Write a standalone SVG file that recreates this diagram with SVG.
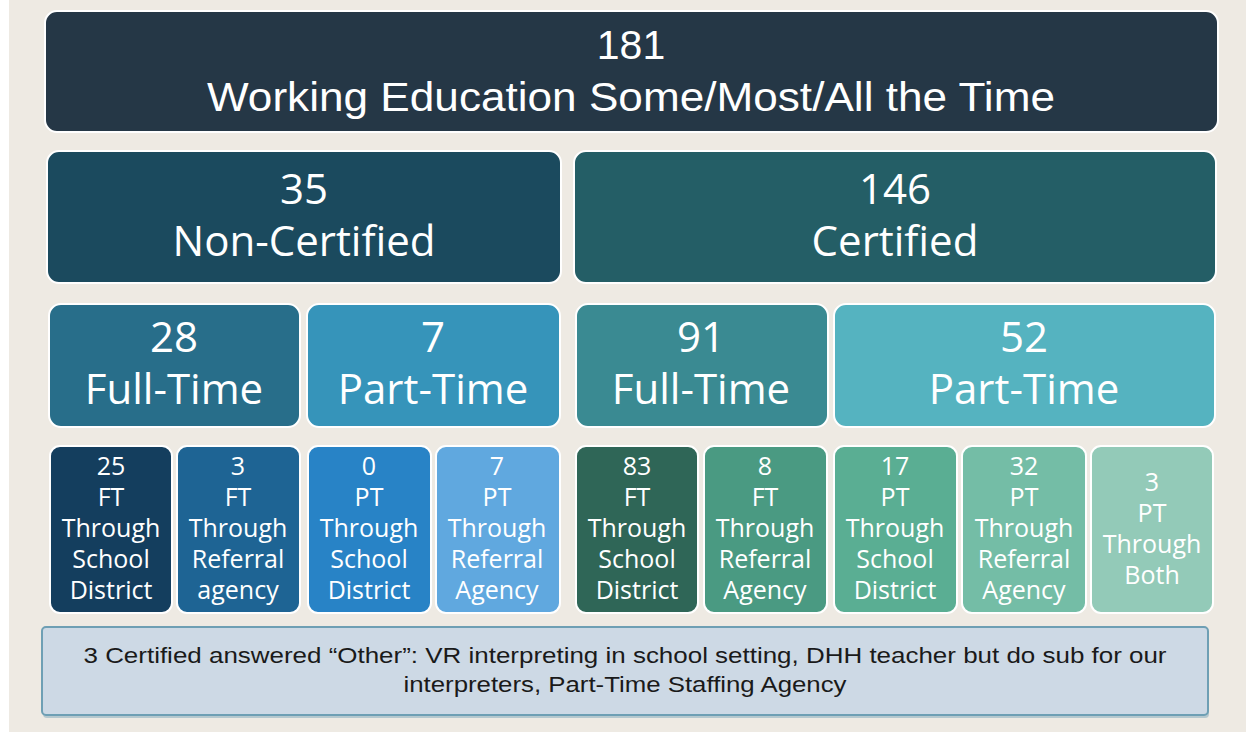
<svg xmlns="http://www.w3.org/2000/svg" width="1246" height="732" viewBox="0 0 1246 732">
<defs>
<style>
.b{stroke:#ffffff;stroke-width:2}
.t{font-family:"Open Sans","DejaVu Sans",sans-serif;fill:#ffffff;text-anchor:middle}
.big{font-size:42px}
.sm{font-size:25px}
.top{font-family:"Liberation Sans",Arial,sans-serif;fill:#ffffff;text-anchor:middle;font-size:41px}
.ft{font-family:"Liberation Sans",Arial,sans-serif;fill:#1a1a1a;text-anchor:middle;font-size:22px}
</style>
</defs>
<rect x="0" y="0" width="1246" height="732" fill="#EEEAE3"/>
<rect x="0" y="0" width="9" height="732" fill="#ffffff"/>

<g id="n-total">
<rect class="b" x="45" y="11" width="1173" height="121" rx="12" fill="#253746"/>
<text class="top" x="631" y="59">181</text>
<text class="top" x="631" y="111" textLength="848" lengthAdjust="spacingAndGlyphs">Working Education Some/Most/All the Time</text>
</g>

<g id="n-noncert">
<rect class="b" x="47" y="151" width="514" height="132" rx="12" fill="#1B4A5E"/>
<text class="t big" x="304" y="204">35</text>
<text class="t big" x="304" y="256">Non-Certified</text>
</g>
<g id="n-cert">
<rect class="b" x="574" y="151" width="642" height="132" rx="12" fill="#245E66"/>
<text class="t big" x="895" y="204">146</text>
<text class="t big" x="895" y="256">Certified</text>
</g>

<g id="n-nc-ft">
<rect class="b" x="49" y="304" width="251" height="123" rx="12" fill="#286E8A"/>
<text class="t big" x="174" y="352">28</text>
<text class="t big" x="174" y="404">Full-Time</text>
</g>
<g id="n-nc-pt">
<rect class="b" x="307" y="304" width="253" height="123" rx="12" fill="#3694BA"/>
<text class="t big" x="433" y="352">7</text>
<text class="t big" x="433" y="404">Part-Time</text>
</g>
<g id="n-c-ft">
<rect class="b" x="576" y="304" width="252" height="123" rx="12" fill="#3A8A92"/>
<text class="t big" x="701" y="352">91</text>
<text class="t big" x="701" y="404">Full-Time</text>
</g>
<g id="n-c-pt">
<rect class="b" x="834" y="304" width="381" height="123" rx="12" fill="#55B3C0"/>
<text class="t big" x="1024" y="352">52</text>
<text class="t big" x="1024" y="404">Part-Time</text>
</g>

<g id="n-25">
<rect class="b" x="50" y="446" width="122" height="167" rx="10" fill="#143E5E"/>
<text class="t sm" x="111" y="475">25</text>
<text class="t sm" x="111" y="506">FT</text>
<text class="t sm" x="111" y="537">Through</text>
<text class="t sm" x="111" y="568">School</text>
<text class="t sm" x="111" y="599">District</text>
</g>
<g id="n-3ft">
<rect class="b" x="177" y="446" width="123" height="167" rx="10" fill="#1E6494"/>
<text class="t sm" x="238" y="475">3</text>
<text class="t sm" x="238" y="506">FT</text>
<text class="t sm" x="238" y="537">Through</text>
<text class="t sm" x="238" y="568">Referral</text>
<text class="t sm" x="238" y="599">agency</text>
</g>
<g id="n-0">
<rect class="b" x="308" y="446" width="123" height="167" rx="10" fill="#2883C6"/>
<text class="t sm" x="369" y="475">0</text>
<text class="t sm" x="369" y="506">PT</text>
<text class="t sm" x="369" y="537">Through</text>
<text class="t sm" x="369" y="568">School</text>
<text class="t sm" x="369" y="599">District</text>
</g>
<g id="n-7pt">
<rect class="b" x="436" y="446" width="124" height="167" rx="10" fill="#60A8DF"/>
<text class="t sm" x="497" y="475">7</text>
<text class="t sm" x="497" y="506">PT</text>
<text class="t sm" x="497" y="537">Through</text>
<text class="t sm" x="497" y="568">Referral</text>
<text class="t sm" x="497" y="599">Agency</text>
</g>
<g id="n-83">
<rect class="b" x="576" y="446" width="122" height="167" rx="10" fill="#2F6657"/>
<text class="t sm" x="637" y="475">83</text>
<text class="t sm" x="637" y="506">FT</text>
<text class="t sm" x="637" y="537">Through</text>
<text class="t sm" x="637" y="568">School</text>
<text class="t sm" x="637" y="599">District</text>
</g>
<g id="n-8">
<rect class="b" x="704" y="446" width="123" height="167" rx="10" fill="#4A9A82"/>
<text class="t sm" x="765" y="475">8</text>
<text class="t sm" x="765" y="506">FT</text>
<text class="t sm" x="765" y="537">Through</text>
<text class="t sm" x="765" y="568">Referral</text>
<text class="t sm" x="765" y="599">Agency</text>
</g>
<g id="n-17">
<rect class="b" x="834" y="446" width="123" height="167" rx="10" fill="#5AAE93"/>
<text class="t sm" x="895" y="475">17</text>
<text class="t sm" x="895" y="506">PT</text>
<text class="t sm" x="895" y="537">Through</text>
<text class="t sm" x="895" y="568">School</text>
<text class="t sm" x="895" y="599">District</text>
</g>
<g id="n-32">
<rect class="b" x="962" y="446" width="124" height="167" rx="10" fill="#74BDA6"/>
<text class="t sm" x="1024" y="475">32</text>
<text class="t sm" x="1024" y="506">PT</text>
<text class="t sm" x="1024" y="537">Through</text>
<text class="t sm" x="1024" y="568">Referral</text>
<text class="t sm" x="1024" y="599">Agency</text>
</g>
<g id="n-3both">
<rect class="b" x="1091" y="446" width="122" height="167" rx="10" fill="#93CAB8"/>
<text class="t sm" x="1152" y="491">3</text>
<text class="t sm" x="1152" y="522">PT</text>
<text class="t sm" x="1152" y="553">Through</text>
<text class="t sm" x="1152" y="584">Both</text>
</g>

<g id="n-other">
<rect x="43" y="630" width="1166" height="88" rx="4" fill="#8FB0C0" opacity="0.6"/>
<rect x="42" y="627" width="1166" height="88" rx="4" fill="#CDD9E5" stroke="#6E9FB4" stroke-width="2"/>
<text class="ft" x="625" y="663" textLength="1083" lengthAdjust="spacingAndGlyphs">3 Certified answered “Other”: VR interpreting in school setting, DHH teacher but do sub for our</text>
<text class="ft" x="625" y="692" textLength="443" lengthAdjust="spacingAndGlyphs">interpreters, Part-Time Staffing Agency</text>
</g>
<g id="connectors"></g>
</svg>
